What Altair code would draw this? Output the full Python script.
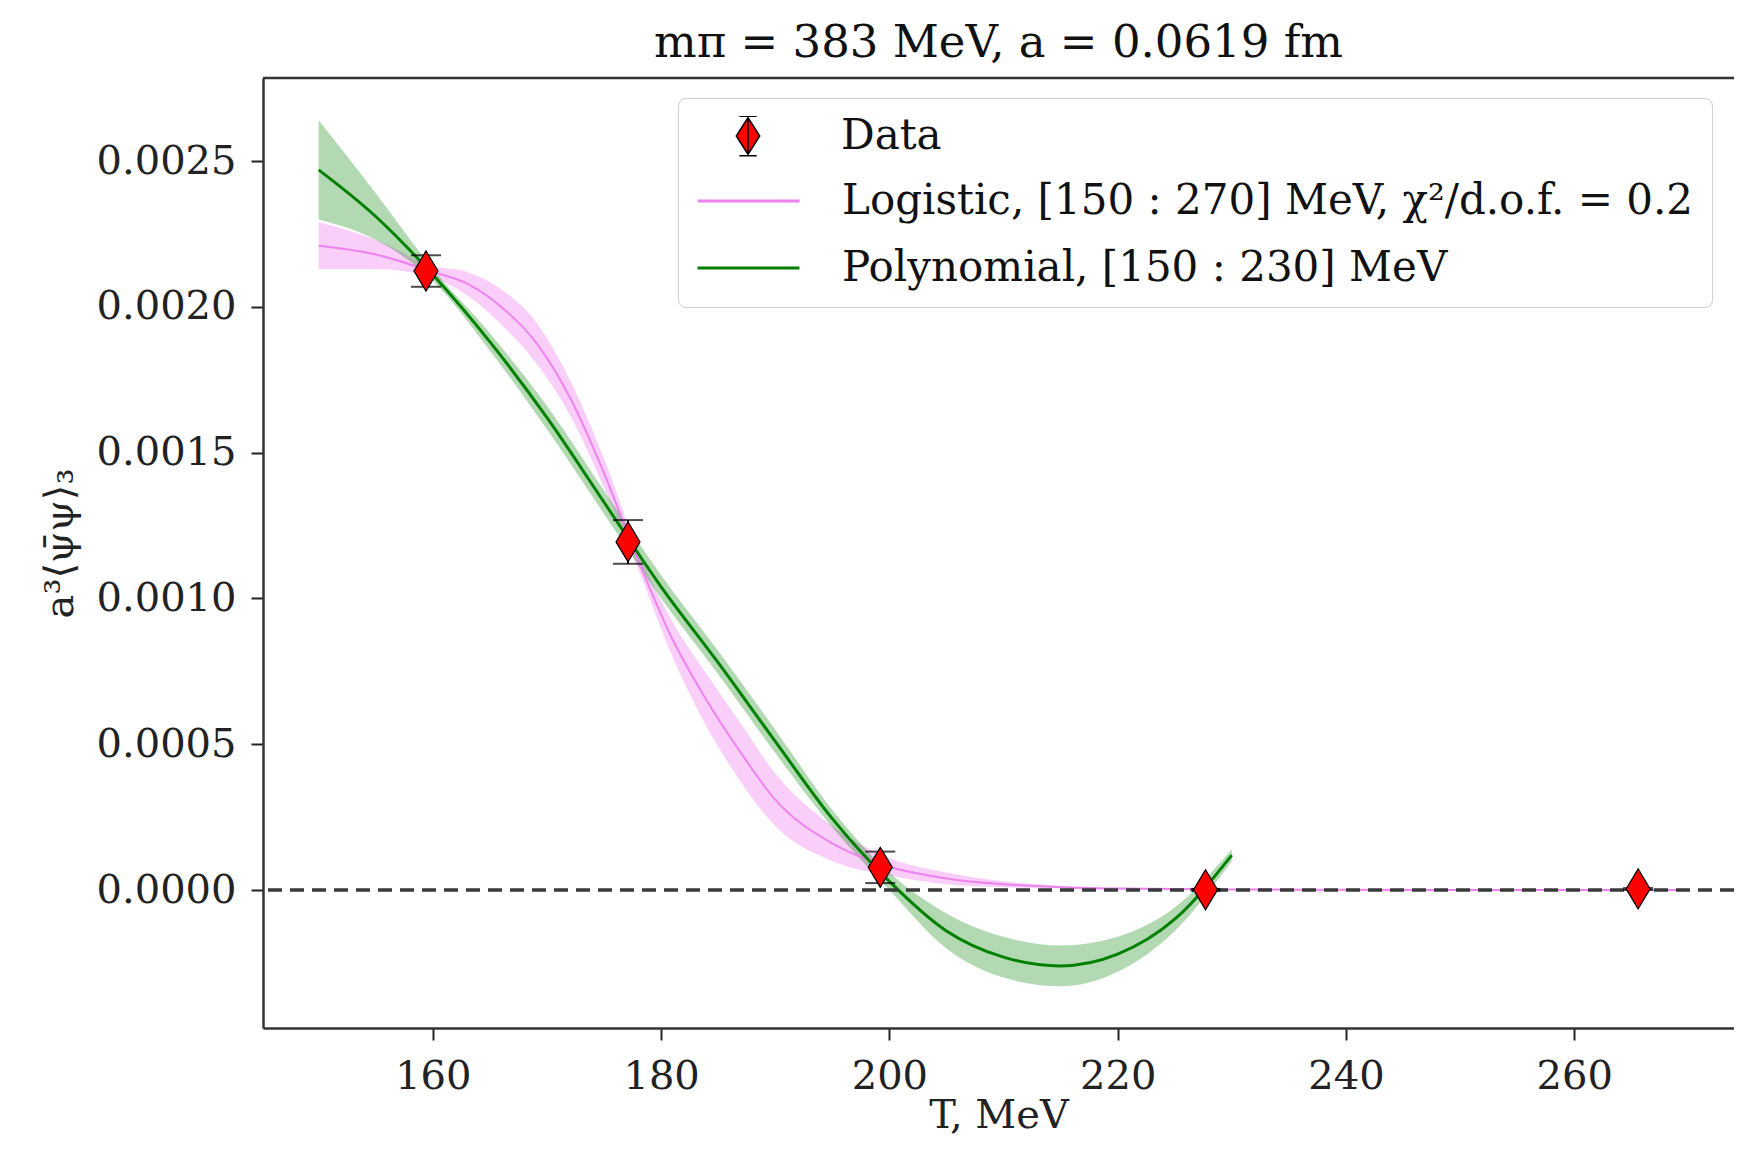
import altair as alt
import pandas as pd

# ---------------- data ----------------
S_DATA = "Data"
S_LOG = "Logistic, [150 : 270] MeV, χ²/d.o.f. = 0.2"
S_POLY = "Polynomial, [150 : 230] MeV"

T_data = [159.4, 177.1, 199.2, 227.7, 265.6]
v_data = [0.002123, 0.001194, 0.000078, 0.000001, 0.000004]
e_data = [0.000054, 0.000075, 0.000054, 0.000003, 0.000003]

T_poly = [150, 155, 160, 165, 170, 175, 180, 185, 190, 195, 200, 205, 210, 215, 220, 225, 230]
poly_mid = [0.00247, 0.00231, 0.00211, 0.00188, 0.00162, 0.00133, 0.00104, 0.00078, 0.00051,
            0.000245, 0.00003, -0.00014, -0.00023, -0.00026, -0.00022, -0.00010, 0.00012]
poly_lo = [0.00230, 0.00223, 0.00209, 0.00185, 0.00158, 0.00129, 0.00100, 0.00074, 0.00047,
           0.000215, 0.00000, -0.00020, -0.00030, -0.00033, -0.00028, -0.00014, 0.00010]
poly_hi = [0.00264, 0.00239, 0.00213, 0.00191, 0.00166, 0.00137, 0.00108, 0.00082, 0.00055,
           0.000275, 0.00006, -0.00008, -0.00016, -0.00019, -0.00016, -0.00006, 0.00014]

T_log = [150, 155, 160, 163, 166, 169, 172, 175, 178, 181, 184, 187, 190, 195, 200, 205, 210,
         215, 220, 230, 240, 250, 260, 270]
log_mid = [0.00221, 0.00218, 0.00212, 0.00208, 0.00200, 0.00188, 0.00169, 0.00143, 0.00113,
           0.00086, 0.00065, 0.00047, 0.00031, 0.00016, 0.00008, 0.00004, 0.00002, 0.00001,
           0.000005, 0.000002, 0.000001, 0.0, 0.0, 0.0]
log_lo = [0.00213, 0.00213, 0.00210, 0.00204, 0.00194, 0.00181, 0.00163, 0.00138, 0.00110,
          0.00080, 0.00056, 0.00037, 0.00022, 0.00010, 0.00005, 0.00002, 0.00001, 0.000005,
          0.000002, 0.000001, 0.0, 0.0, 0.0, 0.0]
log_hi = [0.00229, 0.00223, 0.00214, 0.00212, 0.00206, 0.00195, 0.00175, 0.00148, 0.00116,
          0.00092, 0.00074, 0.00057, 0.00040, 0.00022, 0.00011, 0.00006, 0.00003, 0.000015,
          0.000008, 0.000003, 0.000002, 0.0, 0.0, 0.0]

x_ticks = [160, 180, 200, 220, 240, 260]
y_ticks = [0.0, 0.0005, 0.0010, 0.0015, 0.0020, 0.0025]
x_domain = [145.12, 274.0]
y_domain = [-0.000473, 0.002785]

# ---------------- tables ----------------
df_data = pd.DataFrame({"T": T_data, "v": v_data, "e": e_data, "series": S_DATA})
df_data["lo"] = df_data["v"] - df_data["e"]
df_data["hi"] = df_data["v"] + df_data["e"]
df_poly = pd.DataFrame({"T": T_poly, "mid": poly_mid, "lo": poly_lo, "hi": poly_hi, "series": S_POLY})
df_log = pd.DataFrame({"T": T_log, "mid": log_mid, "lo": log_lo, "hi": log_hi, "series": S_LOG})
df_zero = pd.DataFrame({"z": [0.0]})

FONT = "DejaVu Serif"
W, H = 1471, 950

xscale = alt.Scale(domain=x_domain, nice=False, zero=False)
yscale = alt.Scale(domain=y_domain, nice=False, zero=False)
xaxis = alt.Axis(values=x_ticks, format="d", title="T, MeV", titleY=87, titleBaseline="middle",
                 labelPadding=16)
yaxis = alt.Axis(values=y_ticks, format=".4f", title="a³⟨ψ̄ψ⟩₃", titleX=-203, titleY=H / 2 - 10,
                 titleAngle=270, titleBaseline="middle", labelPadding=15)

X = alt.X("T:Q", scale=xscale, axis=xaxis)


def Y(field):
    return alt.Y(f"{field}:Q", scale=yscale, axis=yaxis)


# legend symbol for "Data": thin diamond with an error bar (scaled for symbolSize 10400)
LEG_DATA_PATH = ("M0,-0.385L0,0.385M-0.17,-0.385L0.17,-0.385M-0.17,0.385L0.17,0.385"
                 "M0,-0.36L0.23,0L0,0.36L-0.23,0Z")
LEG_X, LEG_Y = 415, 20
common_leg = dict(orient="none", legendX=LEG_X, legendY=LEG_Y, labelFont=FONT, labelFontSize=42,
                  labelColor="#111", labelLimit=2000, symbolSize=10400, clipHeight=40,
                  labelOffset=41, padding=18, rowPadding=25)

data_legend = alt.Legend(title=None, symbolType=LEG_DATA_PATH, symbolStrokeWidth=1.5,
                         symbolStrokeColor="black", symbolFillColor="red", symbolOpacity=1,
                         zindex=2, **common_leg)
line_legend = alt.Legend(title=" ", titleFontSize=40, titlePadding=25, symbolType="stroke",
                         symbolStrokeWidth=3, fillColor="white", strokeColor="#d0d0d0",
                         cornerRadius=8, zindex=1, **common_leg)

fill_enc = alt.Fill("series:N", scale=alt.Scale(domain=[S_DATA], range=["red"]), legend=data_legend)
color_enc = alt.Color("series:N", scale=alt.Scale(domain=[S_LOG, S_POLY], range=["violet", "green"]),
                      legend=line_legend)

band_log = alt.Chart(df_log).mark_area(color="violet", opacity=0.38, interpolate="monotone").encode(
    x=X, y=Y("lo"), y2="hi")
band_poly = alt.Chart(df_poly).mark_area(color="green", opacity=0.3, interpolate="monotone").encode(
    x=X, y=Y("lo"), y2="hi")
line_log = alt.Chart(df_log).mark_line(strokeWidth=2, interpolate="monotone").encode(
    x=X, y=Y("mid"), color=color_enc)
line_poly = alt.Chart(df_poly).mark_line(strokeWidth=3, interpolate="monotone").encode(
    x=X, y=Y("mid"), color=color_enc)
zero = alt.Chart(df_zero).mark_rule(color="#3a3a3a", strokeWidth=3.5, strokeDash=[14, 8]).encode(
    y=Y("z"))
err = alt.Chart(df_data).mark_rule(color="black", strokeWidth=2).encode(x=X, y=Y("lo"), y2="hi")
cap_lo = alt.Chart(df_data).mark_tick(orient="horizontal", size=30, thickness=2, color="black").encode(
    x=X, y=Y("lo"))
cap_hi = alt.Chart(df_data).mark_tick(orient="horizontal", size=30, thickness=2, color="black").encode(
    x=X, y=Y("hi"))
pts = alt.Chart(df_data).mark_point(shape="M0,-1L0.6,0L0,1L-0.6,0Z", size=1600, filled=True,
                                    stroke="black", strokeWidth=1.2, opacity=1).encode(
    x=X, y=Y("v"), fill=fill_enc)
top = alt.Chart(df_zero).mark_rule(color="#333", strokeWidth=2.5).encode(y=alt.value(0))

chart = alt.layer(band_log, band_poly, line_log, line_poly, zero, err, cap_lo, cap_hi, pts, top).properties(
    width=W, height=H,
    title=alt.Title("mπ = 383 MeV, a = 0.0619 fm", font=FONT, fontSize=45, fontWeight="normal",
                    color="#111", anchor="middle", offset=17, baseline="alphabetic", dy=42),
    autosize=alt.AutoSizeParams(type="none"),
    padding={"left": 255, "top": 70, "right": 0, "bottom": 108},
).resolve_legend(color="independent", fill="independent").configure_view(stroke=None).configure_axis(
    grid=False, labelFont=FONT, labelFontSize=40, labelColor="#222",
    titleFont=FONT, titleFontSize=40, titleFontWeight="normal", titleColor="#222",
    tickSize=12, tickWidth=2, tickColor="#222", domainColor="#333", domainWidth=2.5,
    labelFlush=False,
)

chart.save("out.html", embed_options={"renderer": "svg", "actions": False})
